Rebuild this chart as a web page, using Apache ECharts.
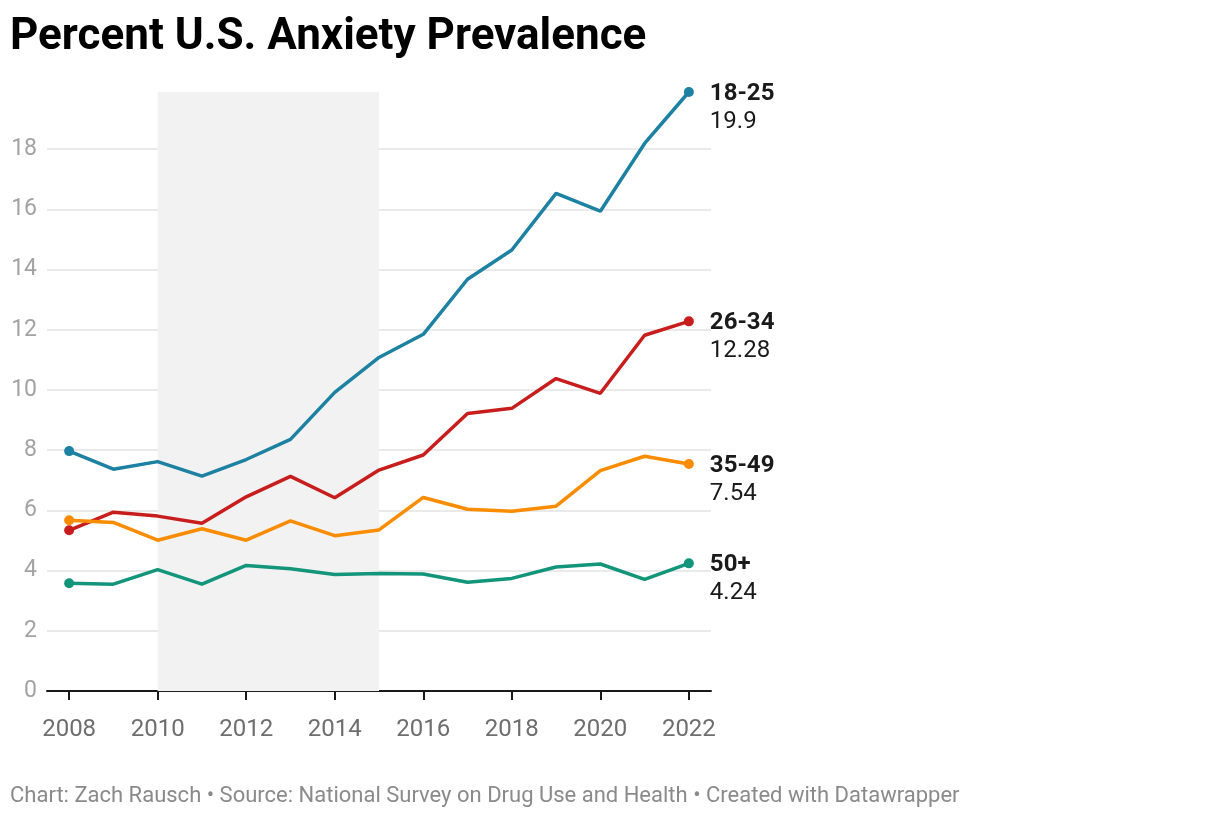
<!DOCTYPE html>
<html>
<head>
<meta charset="utf-8">
<script src="https://cdn.jsdelivr.net/npm/echarts@6/dist/echarts.min.js"></script>
<style>
html,body{margin:0;padding:0;background:#fff;}
#chart{width:1220px;height:818px;}
</style>
</head>
<body>
<div id="chart"></div>
<script>
var years = ['2008','2009','2010','2011','2012','2013','2014','2015','2016','2017','2018','2019','2020','2021','2022'];
var age18_25 = [7.97, 7.37, 7.62, 7.14, 7.69, 8.36, 9.92, 11.08, 11.85, 13.68, 14.65, 16.53, 15.94, 18.19, 19.9];
var age26_34 = [5.34, 5.94, 5.81, 5.57, 6.45, 7.13, 6.42, 7.34, 7.84, 9.22, 9.39, 10.38, 9.89, 11.82, 12.28];
var age35_49 = [5.67, 5.60, 5.01, 5.39, 5.01, 5.65, 5.16, 5.35, 6.43, 6.04, 5.97, 6.14, 7.32, 7.80, 7.54];
var age50p   = [3.58, 3.55, 4.03, 3.55, 4.17, 4.06, 3.87, 3.90, 3.89, 3.61, 3.74, 4.12, 4.22, 3.71, 4.24];
var seriesNames = ['18-25', '26-34', '35-49', '50+'];
var yTicks = [0, 2, 4, 6, 8, 10, 12, 14, 16, 18];
var shadeStart = '2010', shadeEnd = '2015';
var yMax = 19.9;

var colors = ['#1d81a2', '#c71e1d', '#fa8c00', '#12957a'];
var FONT = 'Roboto, sans-serif';
var last = years.length - 1;

function mkSeries(name, data, color, withArea) {
  var s = {
    name: name,
    type: 'line',
    data: data,
    color: color,
    lineStyle: { width: 3.5, color: color },
    symbol: 'circle',
    showSymbol: true,
    showAllSymbol: true,
    symbolSize: function (v, p) { return (p.dataIndex === 0 || p.dataIndex === last) ? 10 : 0; },
    itemStyle: { color: color },
    emphasis: { disabled: true },
    z: 3,
    endLabel: {
      show: true,
      distance: 21,
      verticalAlign: 'top',
      offset: [0, -12],
      formatter: function (p) { return '{n|' + name + '}\n{v|' + p.value + '}'; },
      rich: {
        n: { fontFamily: FONT, fontSize: 24, fontWeight: 'bold', color: '#1a1a1a', lineHeight: 28 },
        v: { fontFamily: FONT, fontSize: 24, color: '#1a1a1a', lineHeight: 28 }
      }
    }
  };
  if (withArea) {
    s.markArea = {
      silent: true,
      itemStyle: { color: '#f2f2f2' },
      data: [[{ xAxis: shadeStart, yAxis: 0 }, { xAxis: shadeEnd, yAxis: yMax }]]
    };
  }
  return s;
}

var splitColors = [];
for (var i = 0; i < yTicks.length; i++) splitColors.push('#e3e3e3');
splitColors.push('rgba(0,0,0,0)');

var chart = echarts.init(document.getElementById('chart'), null, { renderer: 'canvas' });
chart.setOption({
  animation: false,
  backgroundColor: '#ffffff',
  title: [
    {
      text: 'Percent U.S. Anxiety Prevalence',
      left: 10, top: 16, padding: 0,
      textStyle: { fontFamily: FONT, fontSize: 44, fontWeight: 'bold', color: '#000' }
    },
    {
      text: 'Chart: Zach Rausch • Source: National Survey on Drug Use and Health • Created with Datawrapper',
      left: 10, top: 785, padding: 0,
      textStyle: { fontFamily: FONT, fontSize: 22, fontWeight: 'normal', color: '#8a8a8a' }
    }
  ],
  grid: { left: 47, right: 509, top: 92, bottom: 127, containLabel: false },
  xAxis: {
    type: 'category',
    data: years,
    boundaryGap: true,
    axisLine: { show: true, lineStyle: { color: '#1a1a1a', width: 2 } },
    axisTick: { show: true, alignWithLabel: true, interval: 1, length: 9, lineStyle: { color: '#1a1a1a', width: 2 } },
    axisLabel: { interval: 1, margin: 27, fontFamily: FONT, fontSize: 24, color: '#6e6e6e' },
    splitLine: { show: false }
  },
  yAxis: {
    type: 'value',
    min: 0, max: yMax, interval: 2,
    axisLine: { show: false },
    axisTick: { show: false },
    axisLabel: {
      margin: 10, fontFamily: FONT, fontSize: 23, color: '#a3a3a3',
      formatter: function (v) { return yTicks.indexOf(v) >= 0 ? String(v) : ''; }
    },
    splitLine: { show: true, lineStyle: { color: splitColors, width: 1.5 } }
  },
  series: [
    mkSeries(seriesNames[0], age18_25, colors[0], true),
    mkSeries(seriesNames[1], age26_34, colors[1], false),
    mkSeries(seriesNames[2], age35_49, colors[2], false),
    mkSeries(seriesNames[3], age50p, colors[3], false)
  ]
});
</script>
</body>
</html>
